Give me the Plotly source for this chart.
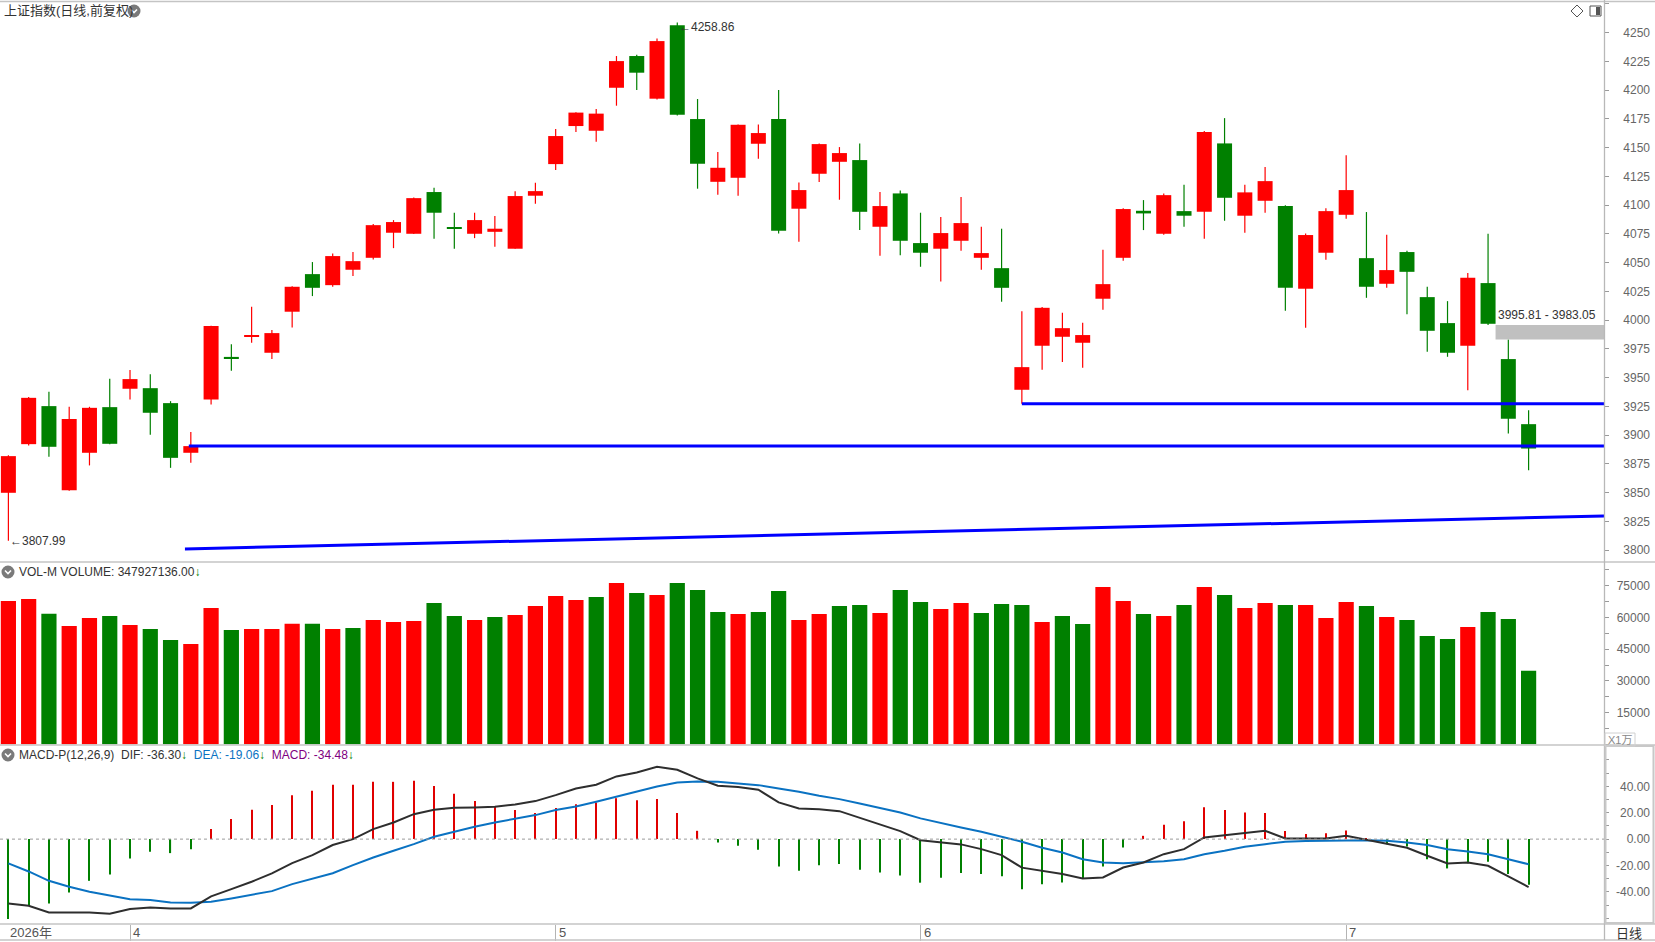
import pandas as pd
import plotly.graph_objects as go

# trading days on screen: 2026-03-24 .. 2026-07-14, exchange holidays removed
holidays = ["2026-04-06", "2026-05-01", "2026-05-04", "2026-05-05", "2026-06-19"]
dates = [d for d in pd.bdate_range("2026-03-24", "2026-07-14")
         if d.strftime("%Y-%m-%d") not in holidays]

open_ = [3849.8, 3892.1, 3925.2, 3852.1, 3884.6, 3924.3, 3940.3, 3940.8, 3927.8, 3884.6,
         3931.0, 3968.0, 3985.5, 3971.6, 4007.3, 4040.0, 4030.4, 4043.8, 4054.2, 4076.0,
         4075.1, 4111.4, 4081.0, 4075.1, 4076.8, 4062.1, 4108.2, 4135.7, 4168.8, 4164.7,
         4202.1, 4229.7, 4192.6, 4256.5, 4174.9, 4120.3, 4123.8, 4153.4, 4174.9, 4096.9,
         4127.3, 4137.7, 4139.2, 4081.2, 4110.2, 4067.0, 4062.1, 4069.0, 4054.2, 4045.2,
         3939.4, 3977.7, 3985.5, 3980.3, 4018.6, 4054.2, 4095.1, 4075.1, 4094.8, 4094.2,
         4153.7, 4090.8, 4103.8, 4099.2, 4027.3, 4058.6, 4091.6, 4053.9, 4031.6, 4059.2,
         4020.0, 3997.4, 3977.7, 4032.2, 3966.1, 3909.5]
high = [3882.5, 3933.2, 3937.6, 3924.6, 3924.6, 3949.0, 3956.5, 3953.0, 3929.5, 3902.6,
        3995.0, 3979.1, 4011.6, 3991.3, 4029.5, 4050.5, 4058.0, 4059.2, 4083.5, 4087.0,
        4106.7, 4115.1, 4093.4, 4093.4, 4090.5, 4112.0, 4119.5, 4166.2, 4180.9, 4183.6,
        4229.7, 4230.8, 4245.0, 4258.86, 4192.3, 4146.2, 4170.2, 4170.2, 4200.1, 4119.8,
        4153.7, 4150.5, 4153.7, 4111.4, 4112.8, 4093.4, 4089.6, 4107.0, 4081.2, 4079.5,
        4007.8, 4011.3, 4006.4, 3997.7, 4061.2, 4097.2, 4104.4, 4110.2, 4117.7, 4164.4,
        4175.7, 4117.7, 4133.1, 4100.0, 4075.4, 4097.4, 4143.5, 4094.0, 4074.2, 4060.3,
        4029.0, 4016.5, 4040.9, 4075.1, 3983.05, 3921.7]
low = [3807.99, 3891.0, 3881.1, 3851.5, 3873.6, 3892.0, 3931.0, 3900.2, 3871.5, 3875.9,
       3926.6, 3955.9, 3980.3, 3966.1, 3993.6, 4020.9, 4029.0, 4038.3, 4052.8, 4062.6,
       4075.0, 4070.8, 4062.1, 4071.3, 4063.8, 4062.0, 4101.2, 4130.5, 4163.6, 4155.1,
       4186.5, 4200.1, 4192.0, 4178.0, 4114.3, 4109.0, 4108.2, 4140.4, 4075.4, 4068.1,
       4120.1, 4104.7, 4078.3, 4056.0, 4056.5, 4046.4, 4033.6, 4060.3, 4043.8, 4016.0,
       3927.2, 3956.8, 3963.5, 3958.5, 4009.0, 4051.6, 4078.3, 4074.2, 4081.2, 4070.8,
       4086.4, 4076.0, 4093.4, 4008.1, 3993.3, 4052.5, 4088.2, 4019.4, 4028.1, 4005.2,
       3972.4, 3968.1, 3939.1, 3995.81, 3901.4, 3869.5]
close = [3881.7, 3932.4, 3889.8, 3913.9, 3923.7, 3892.4, 3948.7, 3919.4, 3880.2, 3890.4,
         3994.8, 3967.0, 3986.5, 3988.7, 4029.0, 4028.1, 4055.7, 4051.3, 4082.6, 4085.3,
         4106.1, 4093.4, 4080.0, 4087.0, 4079.5, 4107.9, 4112.2, 4160.1, 4180.5, 4179.6,
         4225.3, 4215.2, 4242.7, 4178.6, 4136.0, 4132.5, 4169.9, 4162.7, 4077.7, 4113.1,
         4153.1, 4145.3, 4094.2, 4099.2, 4069.0, 4058.6, 4075.7, 4084.4, 4058.3, 4028.1,
         3959.1, 4010.7, 3993.0, 3987.0, 4031.3, 4096.6, 4092.8, 4108.7, 4090.8, 4163.6,
         4106.4, 4111.1, 4120.9, 4028.1, 4074.0, 4094.8, 4113.1, 4029.0, 4043.5, 4042.0,
         3990.7, 3971.6, 4036.8, 3996.8, 3914.2, 3888.3]

# volume, unit 万
volume = [67790, 68740, 61790, 55960, 59740, 60690, 56430, 54540, 49330, 47430,
          64480, 54060, 54540, 54540, 57060, 57060, 54540, 55010, 58800, 57850,
          58320, 66840, 60690, 58800, 60220, 61160, 65420, 70160, 68260, 69680,
          76310, 71580, 70630, 76310, 73000, 62580, 61640, 62580, 72520, 58800,
          61640, 65420, 65900, 62110, 73000, 67320, 64000, 66840, 62110, 66370,
          65900, 57850, 60690, 56900, 74420, 67790, 61640, 60690, 65900, 74420,
          70630, 64480, 66840, 65900, 65900, 59740, 67320, 65420, 60220, 58800,
          51220, 49800, 55480, 62580, 59270, 34792.7136]

dif = [-48.7, -50.5, -55.6, -55.6, -55.6, -56.6, -53.0, -51.8, -52.5, -52.5,
       -43.4, -37.9, -32.3, -26.0, -18.2, -12.1, -4.5, 0.0, 7.6, 12.6,
       18.9, 22.2, 23.7, 24.0, 24.5, 26.3, 28.8, 33.3, 38.4, 41.2,
       47.5, 50.5, 54.8, 52.5, 46.0, 40.4, 39.4, 37.4, 27.8, 23.2,
       22.7, 21.2, 16.2, 11.1, 6.1, -0.8, -2.5, -4.0, -7.6, -12.1,
       -21.6, -24.0, -26.5, -29.8, -29.0, -21.5, -17.7, -11.4, -7.6, 1.3,
       3.0, 4.3, 6.3, 0.5, 0.5, 0.5, 2.5, -0.5, -3.8, -6.6,
       -12.6, -18.4, -17.7, -20.2, -28.3, -36.30]
dea = [-18.4, -24.5, -31.6, -36.1, -39.9, -42.9, -45.5, -46.2, -48.0, -48.2,
       -47.5, -44.9, -42.4, -39.4, -34.1, -29.8, -25.8, -19.7, -13.9, -8.8,
       -3.8, 1.8, 5.6, 9.3, 12.6, 15.2, 18.2, 22.0, 24.7, 28.3,
       32.0, 36.1, 39.9, 42.9, 43.7, 43.4, 42.4, 40.9, 38.4, 35.9,
       32.8, 30.3, 27.0, 23.7, 20.2, 15.7, 12.1, 8.8, 5.6, 2.0,
       -2.0, -6.6, -10.1, -15.2, -17.7, -18.2, -17.7, -16.7, -15.2, -11.4,
       -8.8, -5.8, -3.8, -2.0, -1.5, -1.3, -0.8, -0.8, -1.3, -2.5,
       -4.5, -7.6, -9.3, -11.4, -15.2, -19.06]
macd = [-60.6, -50.5, -48.7, -40.4, -31.6, -26.8, -14.6, -9.6, -10.6, -7.6,
        7.6, 15.2, 22.2, 25.8, 33.3, 36.6, 41.2, 41.2, 43.4, 43.4,
        44.2, 40.2, 34.3, 28.8, 24.7, 22.0, 19.7, 23.5, 26.5, 27.8,
        31.0, 29.5, 30.3, 19.7, 6.3, -2.5, -5.0, -8.1, -20.7, -24.0,
        -19.7, -18.9, -23.2, -25.3, -27.5, -33.0, -29.2, -25.6, -26.4, -28.2,
        -38.0, -34.1, -32.8, -29.8, -20.7, -6.3, 2.5, 10.9, 13.6, 24.2,
        22.0, 20.2, 19.7, 6.1, 3.8, 4.5, 6.6, 0.6, -3.8, -5.6,
        -15.2, -22.2, -18.2, -17.2, -26.5, -34.48]

price_ticks = [3800, 3825, 3850, 3875, 3900, 3925, 3950, 3975, 4000, 4025,
               4050, 4075, 4100, 4125, 4150, 4175, 4200, 4225, 4250]
vol_ticks = [15000, 30000, 45000, 60000, 75000]
macd_ticks = [-40, -20, 0, 20, 40]
macd_ticktext = ["-40.00", "-20.00", "0.00", "20.00", "40.00"]

# hand-drawn lines on the price panel (bar index, price)
hline_x0 = [8.9, 50.0]
hline_y = [3890.4, 3927.2]
trend_x = [8.71, 78.72]
trend_y = [3801.0, 3829.7]
gap_bar = 73  # gap between this bar's low and the next bar's high

RED = "#FF0000"
GREEN = "#008000"
W, H = 1655, 942
FONT = "Liberation Sans, Arial, Noto Sans CJK SC"
CJK = "Liberation Sans, Noto Sans CJK SC"
X_END = 1604 / W
XR = [-0.414, 78.72]

def px(x):
    return x / W

def py(y):
    return 1 - y / H

n = len(dates)
idx = list(range(n))
up = [c > o for o, c in zip(open_, close)]

fig = go.Figure()

# candle wicks (base price axis)
for flag, col in [(True, RED), (False, GREEN)]:
    wx, wy = [], []
    for i in idx:
        if up[i] == flag:
            wx += [i, i, None]
            wy += [low[i], high[i], None]
    fig.add_trace(go.Scatter(x=wx, y=wy, mode="lines", line=dict(color=col, width=1.2),
                             hoverinfo="skip", showlegend=False))

# candle bodies (label axis overlaid on price axis)
fig.add_trace(go.Bar(
    x=idx, y=[max(abs(c - o), 0.9) for o, c in zip(open_, close)],
    base=[min(o, c) for o, c in zip(open_, close)], yaxis="y4",
    width=0.74, marker=dict(color=[RED if u else GREEN for u in up], line=dict(width=0)),
    showlegend=False, hoverinfo="skip"))

# volume, colour by change against previous close
vol_up = [(close[i] > close[i - 1]) if i else up[0] for i in idx]
for flag, col, ax in [(True, RED, "y2"), (False, GREEN, "y5")]:
    fig.add_trace(go.Bar(x=[i for i in idx if vol_up[i] == flag],
                         y=[volume[i] for i in idx if vol_up[i] == flag],
                         width=0.75, yaxis=ax, marker=dict(color=col, line=dict(width=0)),
                         showlegend=False, hoverinfo="skip"))

# MACD histogram + lines
fig.add_trace(go.Bar(x=idx, y=macd, width=0.055, yaxis="y3",
                     marker=dict(color=["#E00000" if v > 0 else GREEN for v in macd], line=dict(width=0)),
                     showlegend=False, hoverinfo="skip"))
fig.add_trace(go.Scatter(x=idx, y=dea, yaxis="y6", mode="lines",
                         line=dict(color="#0A72C2", width=2), showlegend=False, hoverinfo="skip"))
fig.add_trace(go.Scatter(x=idx, y=dif, yaxis="y6", mode="lines",
                         line=dict(color="#2E2E2E", width=2), showlegend=False, hoverinfo="skip"))

# month ticks
month_idx = [i for i in idx if i > 0 and dates[i].month != dates[i - 1].month]

shapes = []
for x0, y0 in zip(hline_x0, hline_y):
    shapes.append(dict(type="line", xref="x", yref="y", x0=x0, x1=XR[1], y0=y0, y1=y0,
                       line=dict(color="#0000FF", width=3)))
shapes.append(dict(type="line", xref="x", yref="y", x0=trend_x[0], x1=trend_x[1],
                   y0=trend_y[0], y1=trend_y[1], line=dict(color="#0000FF", width=3)))
shapes.append(dict(type="rect", xref="x", yref="y", x0=gap_bar + 0.37, x1=XR[1],
                   y0=high[gap_bar + 1], y1=low[gap_bar], fillcolor="#C0C0C0", line=dict(width=0)))
shapes.append(dict(type="line", xref="x", yref="y3", x0=XR[0], x1=XR[1], y0=0, y1=0,
                   line=dict(color="#9A9A9A", width=1, dash="dot")))

# frame lines
for yy in [1.5, 562, 745, 924, 940]:
    shapes.append(dict(type="line", xref="paper", yref="paper", x0=0, x1=1, y0=py(yy), y1=py(yy),
                       line=dict(color="#C4C4C4", width=1.3)))
shapes.append(dict(type="line", xref="paper", yref="paper", x0=px(1604.5), x1=px(1604.5),
                   y0=py(0), y1=py(940), line=dict(color="#B8B8B8", width=1.3)))
shapes.append(dict(type="rect", xref="paper", yref="paper", x0=px(1605.5), x1=px(1653.5),
                   y0=py(923), y1=py(746), line=dict(color="#C8C8C8", width=2)))
shapes.append(dict(type="rect", xref="paper", yref="paper", x0=px(1605), x1=px(1635),
                   y0=py(746), y1=py(733), line=dict(color="#D0D0D0", width=1)))

# small round menu icons
for cx, cy in [(134, 11), (8, 572), (8, 755)]:
    shapes.append(dict(type="circle", xref="paper", yref="paper", x0=px(cx - 6.5), x1=px(cx + 6.5),
                       y0=py(cy + 6.5), y1=py(cy - 6.5), fillcolor="#7A7A7A", line=dict(width=0)))
    shapes.append(dict(type="path", xref="paper", yref="paper",
                       path=f"M {px(cx - 3)},{py(cy - 1.5)} L {px(cx)},{py(cy + 1.5)} L {px(cx + 3)},{py(cy - 1.5)}",
                       line=dict(color="white", width=1.6)))
# top-right icons
shapes.append(dict(type="path", xref="paper", yref="paper",
                   path=f"M {px(1577)},{py(5)} L {px(1583)},{py(11)} L {px(1577)},{py(17)} L {px(1571)},{py(11)} Z",
                   line=dict(color="#555", width=1)))
shapes.append(dict(type="rect", xref="paper", yref="paper", x0=px(1590), x1=px(1601),
                   y0=py(16), y1=py(6), line=dict(color="#555", width=1)))
shapes.append(dict(type="rect", xref="paper", yref="paper", x0=px(1596), x1=px(1600),
                   y0=py(15), y1=py(7), fillcolor="#555", line=dict(width=0)))

txt = dict(family=FONT, size=12, color="#333333")
ann = []
ann.append(dict(xref="paper", yref="paper", x=px(2), y=py(11), text="上证指数(日线,前复权)",
                xanchor="left", yanchor="middle", showarrow=False,
                font=dict(family=CJK, size=13, color="#333333")))
arrow = f"<span style='color:{GREEN}'>↓</span>"
ann.append(dict(xref="paper", yref="paper", x=px(17), y=py(572),
                text=f"VOL-M VOLUME: {volume[-1] * 10000:.2f}{arrow}",
                xanchor="left", yanchor="middle", showarrow=False, font=txt))
ann.append(dict(xref="paper", yref="paper", x=px(17), y=py(755),
                text=(f"MACD-P(12,26,9)  DIF: {dif[-1]:.2f}{arrow}  "
                      f"<span style='color:#0A72C2'>DEA: {dea[-1]:.2f}</span>{arrow}  "
                      f"<span style='color:#800080'>MACD: {macd[-1]:.2f}</span>{arrow}"),
                xanchor="left", yanchor="middle", showarrow=False, font=txt))

hi = high.index(max(high))
lo = low.index(min(low))
ann.append(dict(x=hi, y=high[hi], yref="y", text=f"←{high[hi]:.2f}", xanchor="left", yanchor="middle",
                yshift=-4, showarrow=False, font=txt))
ann.append(dict(x=lo, y=low[lo], yref="y", text=f"←{low[lo]:.2f}", xanchor="left", yanchor="middle",
                showarrow=False, font=txt))
ann.append(dict(x=gap_bar + 0.37, y=low[gap_bar], yref="y", text=f"{low[gap_bar]:.2f} - {high[gap_bar + 1]:.2f}",
                xanchor="left", yanchor="bottom", yshift=1, showarrow=False, font=txt))

datefont = dict(family=CJK, size=13, color="#555555")
ann.append(dict(x=0, xref="x", yref="paper", y=py(932), text=f"{dates[0].year}年",
                xanchor="left", yanchor="middle", showarrow=False, font=datefont))
for i in month_idx:
    ann.append(dict(x=i, xref="x", yref="paper", y=py(932), text=str(dates[i].month),
                    xanchor="left", yanchor="middle", xshift=1, showarrow=False, font=datefont))
ann.append(dict(xref="paper", yref="paper", x=px(1629), y=py(932), text="日线", showarrow=False,
                xanchor="center", yanchor="middle", font=dict(family="Noto Sans CJK SC", size=13, color="#333")))
ann.append(dict(xref="paper", yref="paper", x=px(1620), y=py(740), text="X1万", showarrow=False,
                xanchor="center", yanchor="middle", font=dict(family=CJK, size=11, color="#888")))

axfont = dict(family=FONT, size=12, color="#666666")
tick_ax = dict(anchor="x", side="right", showgrid=False, zeroline=False, showline=False,
               ticks="outside", ticklen=4, tickcolor="#999999", showticklabels=False)
lab_ax = dict(anchor="free", position=px(1650), side="left", showgrid=False, zeroline=False,
              showline=False, ticks="", tickfont=axfont)

p_rng = [3789.6, 4276.7]
v_rng = [-379, 86269]
m_rng = [-64.3, 71.3]

fig.update_layout(
    width=W, height=H, margin=dict(l=0, r=0, t=0, b=0),
    paper_bgcolor="white", plot_bgcolor="white", barmode="overlay", showlegend=False,
    xaxis=dict(domain=[0, X_END], range=XR, anchor="y3", showgrid=False, zeroline=False,
               showline=False, tickvals=month_idx, ticks="outside", ticklen=16,
               tickcolor="#B4B4B4", showticklabels=False),
    yaxis=dict(domain=[py(562), py(2)], range=p_rng, tick0=3800, dtick=25, **tick_ax),
    yaxis2=dict(domain=[py(745), py(562)], range=v_rng, tick0=0, dtick=7500, **tick_ax),
    yaxis3=dict(domain=[py(924), py(745)], range=m_rng, tick0=0, dtick=10, **tick_ax),
    yaxis4=dict(overlaying="y", range=p_rng, tickvals=price_ticks, **lab_ax),
    yaxis5=dict(overlaying="y2", range=v_rng, tickvals=vol_ticks, tickformat="d", **lab_ax),
    yaxis6=dict(overlaying="y3", range=m_rng, tickvals=macd_ticks, ticktext=macd_ticktext, **lab_ax),
    shapes=shapes, annotations=ann,
)

fig.write_html("out.html", config={"displayModeBar": False},
               post_script="document.body.style.margin='0';document.body.style.overflow='hidden';")
